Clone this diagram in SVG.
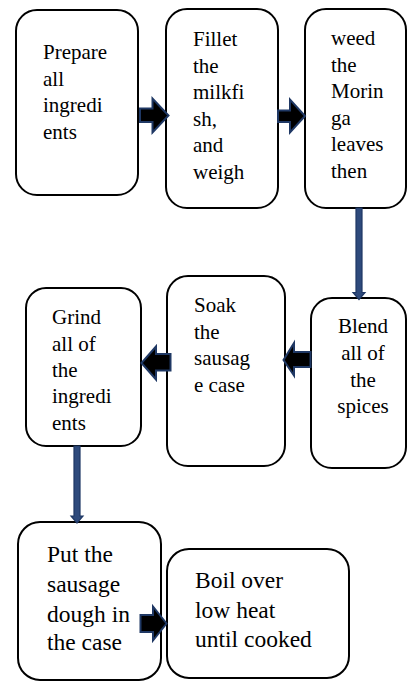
<svg xmlns="http://www.w3.org/2000/svg" width="408" height="682" viewBox="0 0 408 682" font-family="Liberation Serif, serif">
<rect width="408" height="682" fill="#fff"/>
<g id="n1"><rect fill="#fff" stroke="#000" stroke-width="2" x="16" y="10" width="122" height="185" rx="21"/>
<text x="43" y="59" font-size="21">Prepare</text>
<text x="43" y="85.5" font-size="21">all</text>
<text x="43" y="112" font-size="21">ingredi</text>
<text x="43" y="138.5" font-size="21">ents</text></g>
<g id="n2"><rect fill="#fff" stroke="#000" stroke-width="2" x="166" y="9" width="112" height="199" rx="21"/>
<text x="193" y="46" font-size="21">Fillet</text>
<text x="193" y="72.6" font-size="21">the</text>
<text x="193" y="99.2" font-size="21">milkfi</text>
<text x="193" y="125.8" font-size="21">sh,</text>
<text x="193" y="152.4" font-size="21">and</text>
<text x="193" y="179" font-size="21">weigh</text></g>
<g id="n3"><rect fill="#fff" stroke="#000" stroke-width="2" x="305" y="9" width="101" height="199" rx="21"/>
<text x="331" y="45" font-size="21">weed</text>
<text x="331" y="71.6" font-size="21">the</text>
<text x="331" y="98.2" font-size="21">Morin</text>
<text x="331" y="124.8" font-size="21">ga</text>
<text x="331" y="151.4" font-size="21">leaves</text>
<text x="331" y="178" font-size="21">then</text></g>
<g id="n4"><rect fill="#fff" stroke="#000" stroke-width="2" x="311" y="298" width="95" height="170" rx="21"/>
<text x="363" y="333" font-size="21" text-anchor="middle">Blend</text>
<text x="363" y="360" font-size="21" text-anchor="middle">all of</text>
<text x="363" y="387" font-size="21" text-anchor="middle">the</text>
<text x="363" y="413" font-size="21" text-anchor="middle">spices</text></g>
<g id="n5"><rect fill="#fff" stroke="#000" stroke-width="2" x="167" y="276" width="118" height="190" rx="21"/>
<text x="194" y="312" font-size="21">Soak</text>
<text x="194" y="338.5" font-size="21">the</text>
<text x="194" y="365" font-size="21">sausag</text>
<text x="194" y="391.5" font-size="21">e case</text></g>
<g id="n6"><rect fill="#fff" stroke="#000" stroke-width="2" x="26" y="288" width="115" height="158" rx="20"/>
<text x="52" y="324" font-size="21">Grind</text>
<text x="52" y="350.5" font-size="21">all of</text>
<text x="52" y="377" font-size="21">the</text>
<text x="52" y="403" font-size="21">ingredi</text>
<text x="52" y="429.5" font-size="21">ents</text></g>
<g id="n7"><rect fill="#fff" stroke="#000" stroke-width="2" x="18" y="522" width="143" height="158" rx="22"/>
<text x="47" y="562" font-size="23.5">Put the</text>
<text x="47" y="592" font-size="23.5">sausage</text>
<text x="47" y="621.5" font-size="23.5">dough in</text>
<text x="47" y="650" font-size="23.5">the case</text></g>
<g id="n8"><rect fill="#fff" stroke="#000" stroke-width="2" x="167" y="549" width="182" height="129" rx="22"/>
<text x="195" y="588" font-size="23.5">Boil over</text>
<text x="195" y="617.5" font-size="23.5">low heat</text>
<text x="195" y="647" font-size="23.5">until cooked</text></g>
<g id="connectors" stroke="#1F3864">
<polygon fill="#000" stroke-width="2" points="140,108.5 152.5,108.5 152.5,98.5 168.5,115.5 152.5,132.5 152.5,122 140,122"/>
<polygon fill="#000" stroke-width="2" points="278,110.5 290,110.5 290,99.5 305,116 290,132.5 290,122 278,122"/>
<polygon fill="#2E4A7C" stroke-width="1.2" points="356,208 362,208 362,292.5 365,292.5 359,299.5 353,292.5 356,292.5"/>
<polygon fill="#000" stroke-width="2" points="310.5,352 294,352 294,343 283.5,360 294,375.5 294,367 310.5,367"/>
<polygon fill="#000" stroke-width="2" points="170.5,354 156,354 156,346.5 141.5,363 156,379.5 156,370.5 170.5,370.5"/>
<polygon fill="#2E4A7C" stroke-width="1.2" points="74,446 80,446 80,516 83,516 77,523 71,516 74,516"/>
<polygon fill="#000" stroke-width="2" points="140.5,615 153,615 153,606.5 166.5,623.5 153,640.5 153,632 140.5,632"/>
</g>
</svg>
